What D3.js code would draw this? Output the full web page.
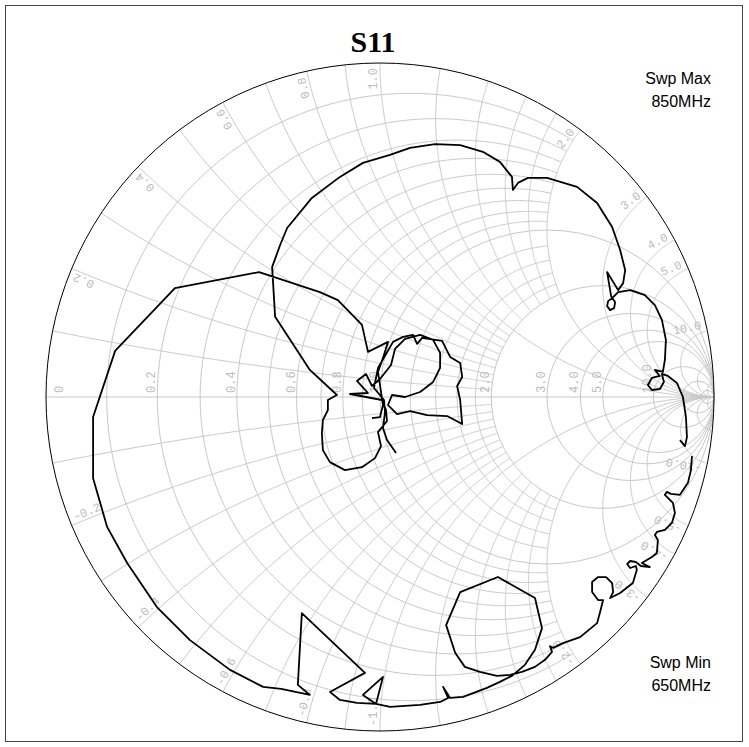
<!DOCTYPE html>
<html><head><meta charset="utf-8">
<script src="https://cdn.jsdelivr.net/npm/d3@7"></script>
<style>body{margin:0;background:#fff}svg{display:block}</style>
</head><body>
<svg id="c" width="749" height="747"></svg>
<script>
// ---------- data ----------
const chartTitle = "S11";
const sweepMax = ["Swp Max", "850MHz"];
const sweepMin = ["Swp Min", "650MHz"];
const rLabels = [0, 0.2, 0.4, 0.6, 0.8, 1.0, 2.0, 3.0, 4.0, 5.0, 10.0];
const xLabels = [0.2, 0.4, 0.6, 0.8, 1.0, 2.0, 3.0, 4.0, 5.0, 10.0];
const gridFine = [0.1, 0.2, 0.3, 0.4, 0.5, 0.6, 0.7, 0.8, 0.9, 1.2, 1.4, 1.6, 1.8];
const gridFull = [1, 2, 3, 4, 5, 10, 20, 50];
const fineLimit = 2;
const s11Re = [-0.024,0.000,0.009,-0.006,0.009,0.024,-0.036,-0.054,-0.126,-0.180,-0.362,-0.614,-0.793,-0.859,-0.859,-0.859,-0.817,-0.757,-0.668,-0.569,-0.449,-0.350,
 -0.296,-0.210,-0.246,-0.234,-0.045,-0.150,-0.120,-0.069,-0.012,0.009,-0.051,-0.012,0.030,0.120,0.180,0.204,0.189,0.210,0.249,0.320,0.359,0.395,
 0.434,0.464,0.485,0.464,0.353,0.240,0.198,0.225,0.254,0.299,0.350,0.389,0.425,0.464,0.494,0.515,0.509,0.518,0.548,0.599,0.650,0.659,0.668,
 0.653,0.635,0.635,0.653,0.677,0.695,0.698,0.689,0.719,0.757,0.769,0.766,0.749,0.740,0.749,0.766,0.781,0.808,0.784,0.814,0.829,0.832,0.823,0.829,0.853,0.874,0.883,0.877,
 0.862,0.853,0.859,0.871,0.898,0.922,0.931,0.934,null,0.898,0.913,0.919,0.916,0.907,0.889,0.862,0.844,0.850,0.838,0.814,0.802,0.814,0.838,0.823,0.847,0.853,0.856,0.844,0.823,
 0.793,0.749,0.713,0.695,0.683,0.680,0.689,0.701,0.704,0.692,0.680,0.713,0.728,0.734,0.719,0.695,0.650,0.590,0.500,0.443,0.413,0.398,0.395,0.359,0.308,0.240,0.165,0.090,
 0.030,-0.051,-0.120,-0.204,-0.278,-0.299,-0.323,-0.314,-0.249,-0.210,-0.129,
 -0.156,-0.156,-0.171,-0.174,-0.171,-0.150,-0.105,-0.054,-0.015,0.003,-0.006,0.021,0.018,0.006,
 -0.090,-0.036,-0.069,-0.042,-0.024,0.000,
 0.033,0.045,0.075,0.120,0.159,0.180,0.180,0.159,0.120,0.075,0.036,
 0.024,0.051,0.090,0.141,0.201,0.246,0.240,0.231,0.246,0.240,0.210,0.186,0.126,0.111,0.099,0.069,0.039,
 -0.006,-0.018,0.012,0.015,0.009,0.021,0.048];
const s11Im = [-0.063,-0.060,-0.024,0.075,0.117,0.165,0.135,0.216,0.290,0.314,0.374,0.326,0.138,-0.060,-0.159,-0.243,-0.389,-0.497,-0.629,-0.728,-0.817,-0.868,
 -0.874,-0.892,-0.862,-0.647,-0.826,-0.883,-0.907,-0.916,-0.919,-0.838,-0.892,-0.919,-0.928,-0.922,-0.913,-0.901,-0.868,-0.901,-0.898,-0.871,-0.853,-0.835,
 -0.802,-0.757,-0.692,-0.602,-0.539,-0.584,-0.683,-0.766,-0.808,-0.823,-0.835,-0.832,-0.823,-0.808,-0.787,-0.763,-0.746,-0.751,-0.737,-0.719,-0.677,-0.644,-0.608,
 -0.608,-0.584,-0.554,-0.539,-0.539,-0.557,-0.584,-0.602,-0.587,-0.557,-0.518,-0.506,-0.512,-0.500,-0.491,-0.494,-0.506,-0.509,-0.497,-0.479,-0.467,-0.428,-0.413,-0.404,-0.398,-0.377,-0.347,-0.317,
 -0.302,-0.293,-0.284,-0.290,-0.293,-0.257,-0.219,-0.177,null,-0.129,-0.147,-0.120,-0.060,0.000,0.042,0.063,0.069,0.045,0.024,0.021,0.036,0.057,0.063,0.081,0.075,0.111,0.171,0.231,0.275,
 0.305,0.320,0.314,0.296,0.287,0.272,0.260,0.266,0.284,0.302,0.374,0.320,0.341,0.380,0.440,0.509,0.581,0.629,0.656,0.656,0.641,0.620,0.659,0.704,0.734,0.754,0.757,0.746,
 0.725,0.701,0.659,0.596,0.506,0.455,0.389,0.240,0.141,0.081,0.006,
 -0.009,-0.039,-0.069,-0.108,-0.159,-0.195,-0.219,-0.210,-0.183,-0.147,-0.105,-0.072,-0.039,-0.009,
 0.009,0.012,0.048,0.069,0.033,0.054,
 0.096,0.144,0.174,0.186,0.171,0.132,0.087,0.045,0.015,0.000,0.006,
 -0.024,-0.051,-0.042,-0.054,-0.057,-0.081,-0.009,0.033,0.060,0.102,0.120,0.168,0.177,0.159,0.186,0.180,0.165,
 0.087,0.027,-0.009,-0.045,-0.093,-0.129,-0.168];

// ---------- drawing ----------
const svg = d3.select("#c");
const R = 334, CX = 380, CY = 397;
const sx = d3.scaleLinear().domain([-1, 1]).range([CX - R, CX + R]);
const sy = d3.scaleLinear().domain([-1, 1]).range([CY + R, CY - R]);
const gamma = (r, x) => { const d = (r + 1) * (r + 1) + x * x; return [(r * r + x * x - 1) / d, 2 * x / d]; };
const line = d3.line().defined(p => p[0] != null && p[1] != null).x(p => sx(p[0])).y(p => sy(p[1]));
const gridColor = "#c8c8c8";

svg.append("rect").attr("x", 5.5).attr("y", 5.5).attr("width", 737).attr("height", 736)
  .attr("fill", "none").attr("stroke", "#444").attr("stroke-width", 1);

const grid = svg.append("g").attr("fill", "none").attr("stroke", gridColor).attr("stroke-width", 1);
const N = 400;
gridFine.forEach(r => {
  const pts = d3.range(N + 1).map(i => gamma(r, -fineLimit + 2 * fineLimit * i / N));
  grid.append("path").attr("d", line(pts));
});
gridFull.forEach(r => {
  grid.append("circle").attr("cx", sx(r / (1 + r))).attr("cy", sy(0)).attr("r", sx(1 / (1 + r)) - sx(0));
});
[1, -1].forEach(sg => {
  gridFine.forEach(x => {
    const pts = d3.range(N + 1).map(i => gamma(fineLimit * i / N, sg * x));
    grid.append("path").attr("d", line(pts));
  });
  gridFull.forEach(x => {
    const pts = d3.range(N + 1).map(i => { const t = i / N; return t >= 1 ? [1, 0] : gamma(t / (1 - t), sg * x); });
    grid.append("path").attr("d", line(pts));
  });
});
grid.append("line").attr("x1", sx(-1)).attr("x2", sx(1)).attr("y1", sy(0)).attr("y2", sy(0));

svg.append("circle").attr("cx", sx(0)).attr("cy", sy(0)).attr("r", R)
  .attr("fill", "none").attr("stroke", "#000").attr("stroke-width", 1);

const lab = svg.append("g").attr("fill", "#bcbcbc").attr("font-family", "'Liberation Mono', monospace").attr("font-size", 12);
rLabels.forEach(r => {
  const px = sx(gamma(r, 0)[0]);
  const bx = r === 0 ? px + 17 : px - 2;
  lab.append("text").attr("transform", `translate(${bx},${sy(0) - 4}) rotate(-90)`)
    .attr("text-anchor", "start").text(r === 0 ? "0" : d3.format(".1f")(r));
});
[1, -1].forEach(sg => {
  xLabels.forEach(x => {
    const g = gamma(0, sg * x);
    const th = Math.atan2(g[1], g[0]);
    const deg = th * 180 / Math.PI;
    const rr = R - 5;
    const ex = CX + rr * Math.cos(th), ey = CY - rr * Math.sin(th);
    let rot, anchor, ux, uy;
    if (sg > 0) { rot = -deg; anchor = "end"; ux = -Math.sin(th); uy = -Math.cos(th); }
    else { rot = -deg - 180; anchor = "start"; ux = Math.sin(th); uy = Math.cos(th); }
    const d = 3;
    lab.append("text").attr("transform", `translate(${ex + ux * d},${ey + uy * d}) rotate(${rot})`)
      .attr("text-anchor", anchor).text((sg < 0 ? "-" : "") + d3.format(".1f")(x));
  });
});

const pts = s11Re.map((v, i) => [v, s11Im[i]]);
svg.append("path").attr("d", line(pts)).attr("fill", "none").attr("stroke", "#000")
  .attr("stroke-width", 1.8).attr("stroke-linejoin", "round");

svg.append("text").attr("x", 373).attr("y", 52).attr("text-anchor", "middle")
  .attr("font-family", "'Liberation Serif', serif").attr("font-weight", "bold").attr("font-size", 30).text(chartTitle);
const info = svg.append("g").attr("font-family", "'Liberation Sans', Arial, sans-serif").attr("font-size", 16).attr("text-anchor", "end").attr("fill", "#000");
info.append("text").attr("x", 711).attr("y", 84).text(sweepMax[0]);
info.append("text").attr("x", 711).attr("y", 107).text(sweepMax[1]);
info.append("text").attr("x", 711).attr("y", 668).text(sweepMin[0]);
info.append("text").attr("x", 711).attr("y", 691).text(sweepMin[1]);
</script>
</body></html>
